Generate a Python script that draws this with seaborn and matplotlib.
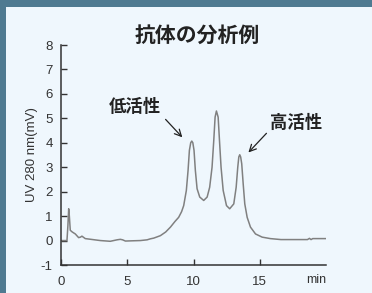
import numpy as np
import pandas as pd
import seaborn as sns
import matplotlib.pyplot as plt
from matplotlib.patches import Rectangle

# chromatogram (time in min, signal in mV)
time_min = [0.0, 0.45, 0.52, 0.58, 0.63, 0.70, 0.85, 1.08, 1.33, 1.47, 1.58, 1.68,
            1.83, 2.40, 2.97, 3.72, 4.23, 4.48, 4.65, 4.86, 5.40, 5.99, 6.50,
            6.74, 7.00, 7.50, 7.90, 8.26, 8.60, 8.88, 9.10, 9.26, 9.46, 9.59,
            9.69, 9.79, 9.87, 9.95, 10.04, 10.14, 10.27, 10.47, 10.77, 11.03,
            11.22, 11.40, 11.53, 11.63, 11.73, 11.86, 11.96, 12.08, 12.24,
            12.49, 12.73, 13.04, 13.22, 13.34, 13.42, 13.49, 13.56, 13.64,
            13.75, 13.87, 14.05, 14.30, 14.68, 15.18, 15.80, 16.60, 18.60,
            18.75, 18.87, 19.00, 20.00]
signal_mv = [0.0, 0.0, 0.6, 1.3, 1.0, 0.42, 0.35, 0.27, 0.12, 0.14, 0.18, 0.14,
             0.08, 0.04, 0.0, -0.03, 0.03, 0.05, 0.03, -0.02, -0.01, 0.0, 0.03,
             0.07, 0.10, 0.20, 0.35, 0.55, 0.78, 0.95, 1.18, 1.43, 2.05, 2.87,
             3.69, 4.00, 4.07, 4.00, 3.69, 2.87, 2.12, 1.78, 1.64, 1.78,
             2.18, 3.00, 4.10, 5.05, 5.30, 5.05, 4.10, 3.00, 2.05,
             1.43, 1.30, 1.50, 2.18, 3.00, 3.42, 3.51, 3.42, 3.14,
             2.32, 1.50, 0.95, 0.55, 0.27, 0.14, 0.08, 0.04, 0.04,
             0.09, 0.04, 0.08, 0.08]

x_ticks = [0, 5, 10, 15]
y_ticks = [-1, 0, 1, 2, 3, 4, 5, 6, 7, 8]

title = "抗体の分析例"
ylabel = "UV 280 nm(mV)"
labels = ["低活性", "高活性"]
label_pos = [(5.6, 5.45), (17.75, 4.8)]
arrow_tip = [(9.3, 4.14), (14.0, 3.52)]
arrow_tail = [(7.75, 5.04), (15.65, 4.47)]

df = pd.DataFrame({"time": time_min, "signal": signal_mv})

sns.set_theme(style="ticks")
plt.rcParams['font.family'] = ['Liberation Sans', 'Noto Sans CJK JP', 'DejaVu Sans']
plt.rcParams['axes.unicode_minus'] = False

border = "#4f7a91"
panel = "#eff7fd"
ink = "#333333"
cjk = ['Noto Sans CJK JP', 'DejaVu Sans']

fig = plt.figure(figsize=(3.72, 2.93), dpi=100)
fig.patch.set_facecolor(border)
fig.patches.append(Rectangle((6 / 372, 0), 1, 1 - 7 / 293, transform=fig.transFigure,
                             facecolor=panel, edgecolor="none", zorder=-10))

ax = fig.add_axes([61 / 372, 1 - 265 / 293, 265 / 372, 220 / 293])
ax.set_facecolor(panel)
sns.lineplot(data=df, x="time", y="signal", ax=ax, color="#808080", linewidth=1.1)

ax.set_xlim(0, 20)
ax.set_ylim(-1, 8)
ax.set_xticks(x_ticks)
ax.set_yticks(y_ticks)
ax.tick_params(direction="in", length=4, width=1, color=ink, labelcolor=ink,
               labelsize=9.5)
ax.tick_params(axis="x", pad=8)
ax.tick_params(axis="y", pad=6)
for s in ["left", "bottom"]:
    ax.spines[s].set_color(ink)
    ax.spines[s].set_linewidth(1.1)
sns.despine(ax=ax)

ax.set_xlabel("")
ax.set_ylabel(ylabel, fontsize=9.5, color=ink)
ax.yaxis.set_label_coords(-0.085, 0.5)
ax.text(1.0, -0.068, "min", transform=ax.transAxes, ha="right", va="center",
        fontsize=9, color=ink)

fig.text(197 / 372, 1 - 35 / 293, title, ha="center", va="center", fontsize=15,
         fontweight="bold", color="#222222", family=cjk)

for lab, pos, tip, tail in zip(labels, label_pos, arrow_tip, arrow_tail):
    ax.text(pos[0], pos[1], lab, ha="center", va="center", fontsize=12.5,
            fontweight="bold", color="#222222", family=cjk)
    ax.annotate("", xy=tip, xytext=tail,
                arrowprops=dict(arrowstyle="->", color="#222222", lw=0.9))

plt.savefig("out.png", dpi=100, facecolor=fig.get_facecolor())
plt.close()
